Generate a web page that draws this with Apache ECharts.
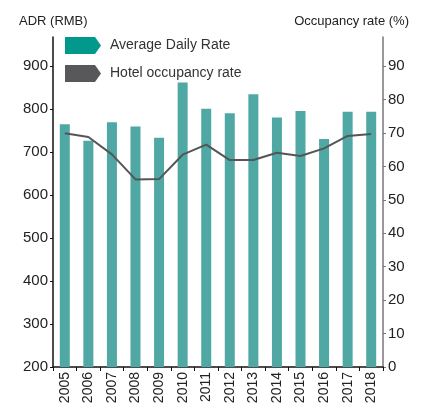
<!DOCTYPE html>
<html>
<head>
    <meta charset="utf-8">
    <script src="https://cdn.jsdelivr.net/npm/echarts@6/dist/echarts.min.js"></script>
</head>
<body style="margin:0">
<div id="main" style="width: 423px;height:403px;"></div>
<script type="text/javascript">
    var years = ['2005','2006','2007','2008','2009','2010','2011','2012','2013','2014','2015','2016','2017','2018'];
    var adr = [764, 726, 769, 759, 733, 861, 800, 790, 834, 780, 795, 730, 793, 793];
    var occupancy = [69.9, 68.8, 63.6, 56.1, 56.2, 63.5, 66.5, 61.9, 61.9, 64.1, 63.1, 65.4, 69.1, 69.7];

    var myChart = echarts.init(document.getElementById('main'));
    var font = 'Liberation Sans';

    var option = {
        animation: false,
        textStyle: { fontFamily: font },
        title: [
            { text: 'ADR (RMB)', left: 14, top: 10, textStyle: { fontSize: 13, fontWeight: 'normal', color: '#222', fontFamily: font } },
            { text: 'Occupancy rate (%)', right: 9, top: 10, textStyle: { fontSize: 13, fontWeight: 'normal', color: '#222', fontFamily: font } }
        ],
        legend: {
            orient: 'vertical',
            left: 60,
            top: 32,
            itemWidth: 36,
            itemHeight: 17,
            itemGap: 11,
            textStyle: { fontSize: 14, color: '#333', fontFamily: font, padding: [0, 0, 0, 4] },
            data: [
                { name: 'Average Daily Rate', icon: 'path://M0,0 L30,0 L36,8.5 L30,17 L0,17 Z', itemStyle: { color: '#00998c' } },
                { name: 'Hotel occupancy rate', icon: 'path://M0,0 L30,0 L36,8.5 L30,17 L0,17 Z', itemStyle: { color: '#58585a' } }
            ]
        },
        grid: { left: 53, right: 40, top: 37, bottom: 36, outerBoundsMode: 'none' },
        xAxis: {
            type: 'category',
            data: years,
            axisLine: { lineStyle: { color: '#111', width: 1.5 } },
            axisTick: { show: true, length: 4, lineStyle: { color: '#111' } },
            axisLabel: { rotate: 90, fontSize: 14, color: '#222', margin: 5, interval: 0 }
        },
        yAxis: [
            {
                type: 'value',
                min: 200,
                max: 967,
                interval: 100,
                splitLine: { show: false },
                axisLine: { show: true, lineStyle: { color: '#111', width: 1.5 } },
                axisTick: { show: true, length: 3, lineStyle: { color: '#111' } },
                axisLabel: { fontSize: 15, color: '#222', margin: 5, showMaxLabel: false }
            },
            {
                type: 'value',
                min: 0,
                max: 98.7,
                interval: 10,
                splitLine: { show: false },
                axisLine: { show: true, lineStyle: { color: '#777', width: 1.5 } },
                axisTick: { show: true, length: 3, lineStyle: { color: '#777' } },
                axisLabel: { fontSize: 15, color: '#222', margin: 5, showMaxLabel: false }
            }
        ],
        series: [
            {
                name: 'Average Daily Rate',
                type: 'bar',
                yAxisIndex: 0,
                barWidth: 10,
                itemStyle: { color: '#4fa8a4' },
                data: adr
            },
            {
                name: 'Hotel occupancy rate',
                type: 'line',
                yAxisIndex: 1,
                symbol: 'none',
                lineStyle: { color: '#555', width: 2 },
                data: occupancy
            }
        ]
    };

    myChart.setOption(option);
</script>
</body>
</html>
